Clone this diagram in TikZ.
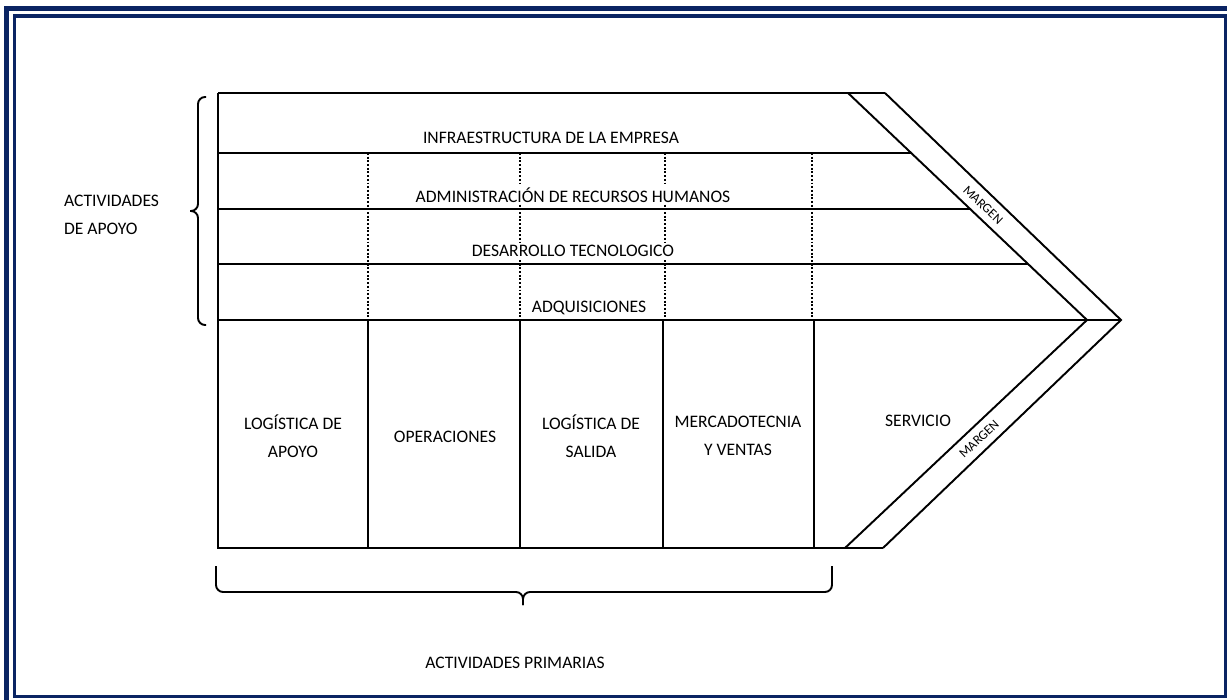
\documentclass[tikz,border=0pt]{standalone}
\usepackage{fontspec}
\setmainfont{Carlito}
\usetikzlibrary{calc}
\definecolor{framenavy}{RGB}{10,36,99}

\begin{document}
\begin{tikzpicture}[x=0.2mm,y=-0.2mm,
    ln/.style={line width=1.1pt},
    dots/.style={line width=1.1pt,dash pattern=on 1.1pt off 1pt},
    lbl/.style={font=\fontsize{10}{16}\selectfont,align=center,inner sep=1pt,fill=white},
    marg/.style={font=\fontsize{7.5}{9}\selectfont,inner sep=0pt}]
    \useasboundingbox (0,0) rectangle (1227,700);
    %frame
    \draw[framenavy,line width=2.6pt] (6.5,8.5) rectangle (1240,712);
    \draw[framenavy,line width=2pt] (14.5,16) rectangle (1225.5,696.5);

    %support rows
    \draw[ln] (218,93) -- (885,93);
    \draw[ln] (218,153) -- (911,153);
    \draw[ln] (218,209) -- (970,209);
    \draw[ln] (218,264) -- (1028,264);
    \draw[ln] (218,320) -- (1121,320);
    \draw[dots] (368,153) -- (368,320);
    \draw[dots] (520,153) -- (520,320);
    \draw[dots] (665,153) -- (665,320);
    \draw[dots] (812,153) -- (812,320);

    %primary columns
    \draw[ln] (218,93) -- (218,548) -- (883,548);
    \draw[ln] (368,320) -- (368,548);
    \draw[ln] (520,320) -- (520,548);
    \draw[ln] (663,320) -- (663,548);
    \draw[ln] (814,320) -- (814,548);

    %margin arrow
    \draw[ln] (848,93) -- (1087,320) -- (845,548);
    \draw[ln] (885,93) -- (1121,320) -- (883,548);

    %braces
    \draw[ln,rounded corners=4pt] (206,97) -- (198,97) -- (198,211) -- (190,211);
    \draw[ln,rounded corners=4pt] (190,211) -- (198,211) -- (198,325) -- (206,325);
    \draw[ln,rounded corners=4pt] (216,566) -- (216,592) -- (523,592) -- (523,605);
    \draw[ln,rounded corners=4pt] (523,605) -- (523,592) -- (832,592) -- (832,566);

    %labels
    \node[lbl] (infra) at (551,138) {INFRAESTRUCTURA DE LA EMPRESA};
    \node[lbl] (rrhh) at (573,195) {ADMINISTRACIÓN DE RECURSOS HUMANOS};
    \node[lbl] (tec) at (573,251) {DESARROLLO TECNOLOGICO};
    \node[lbl] (adq) at (589,308) {ADQUISICIONES};
    \node[lbl] (login) at (293,436) {LOGÍSTICA DE\\APOYO};
    \node[lbl] (oper) at (445,437) {OPERACIONES};
    \node[lbl] (logout) at (591,436) {LOGÍSTICA DE\\SALIDA};
    \node[lbl] (merc) at (738,436) {MERCADOTECNIA\\Y VENTAS};
    \node[lbl] (serv) at (918,421) {SERVICIO};
    \node[marg,rotate=-43.6] (margtop) at (983,205) {MARGEN};
    \node[marg,rotate=43.4] (margbot) at (979,439) {MARGEN};
    \node[lbl,align=left,anchor=west] (apoyo) at (62,215) {ACTIVIDADES\\DE APOYO};
    \node[lbl] (prim) at (515,663) {ACTIVIDADES PRIMARIAS};
\end{tikzpicture}
\end{document}
